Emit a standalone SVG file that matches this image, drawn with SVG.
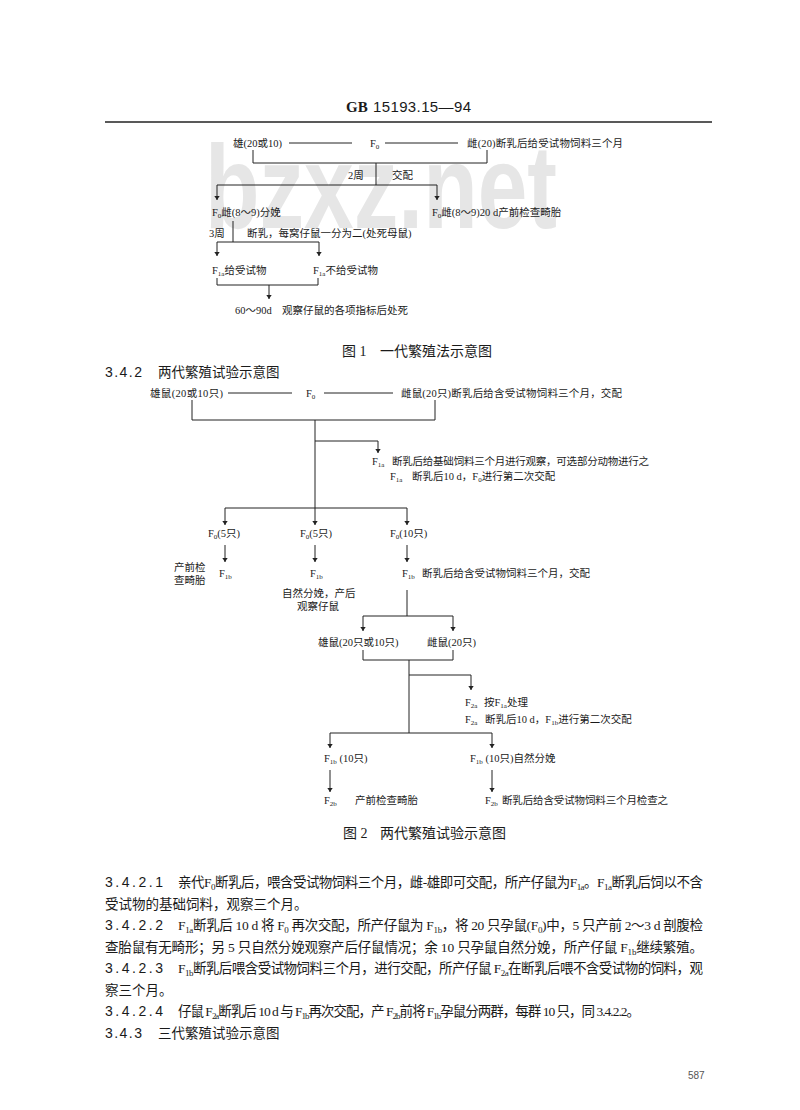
<svg xmlns="http://www.w3.org/2000/svg" width="800" height="1110" viewBox="0 0 800 1110">
<defs>
<style>
text{font-family:"Liberation Serif","Noto Sans CJK SC",serif;font-size:10.5px;fill:#1a1a1a}
.p{font-size:13.5px}
.n{font-family:"Liberation Sans","DejaVu Sans",sans-serif}
.num{font-family:"Liberation Sans","DejaVu Sans",sans-serif;font-size:14px}
.s{font-size:7px}
.ps{font-size:9px}
.cap{font-size:14px}
.ln{stroke:#222;stroke-width:1;fill:none}
.ar{marker-end:url(#ah)}
.wm{font-family:"Liberation Sans",sans-serif;font-weight:bold;font-size:118px;fill:#e6e6e6}
</style>
<marker id="ah" viewBox="0 0 6 10" refX="6" refY="5" markerWidth="4" markerHeight="8" markerUnits="userSpaceOnUse" orient="auto"><path d="M0,1 L6,5 L0,9 z" fill="#222"/></marker>
</defs>
<rect width="800" height="1110" fill="#fff"/>
<text class="wm" x="205" y="228" textLength="352" lengthAdjust="spacingAndGlyphs">bzxz.net</text>

<g id="header">
<text x="346" y="112" style="font-size:15px;font-weight:bold">GB</text>
<text class="n" x="373" y="112" style="font-size:15px" textLength="98">15193.15—94</text>
<line x1="105" y1="122" x2="712" y2="122" stroke="#222" stroke-width="1.6"/>
</g>

<!-- Figure 1 -->
<g id="fig1-connectors">
<path class="ln" d="M289,143 H352 M385,143 H458"/>
<path class="ln" d="M253,150 V163 H487 V150 M376,163 V185 M217,185 H437"/>
<path class="ln ar" d="M217,185 V200"/>
<path class="ln ar" d="M437,185 V200"/>
<path class="ln" d="M233,221 V242 M217,242 H319"/>
<path class="ln ar" d="M217,242 V256"/>
<path class="ln ar" d="M319,242 V256"/>
<path class="ln" d="M217,278 V285 H318 V278"/>
<path class="ln ar" d="M269,285 V299"/>
</g>
<g id="f1-male"><text x="233" y="147">雄(20或10)</text></g>
<g id="f1-F0"><text x="370" y="147">F<tspan class="s" dy="2">0</tspan></text></g>
<g id="f1-female"><text x="467" y="147" textLength="156">雌(20)断乳后给受试物饲料三个月</text></g>
<g id="f1-mate"><text x="348" y="179">2周</text><text x="392" y="179">交配</text></g>
<g id="f1-birth"><text x="212" y="216">F<tspan class="s" dy="2">0</tspan><tspan dy="-2">雌(8～9)分娩</tspan></text></g>
<g id="f1-check"><text x="432" y="216">F<tspan class="s" dy="2">0</tspan><tspan dy="-2">雌(8～9)20 d产前检查畸胎</tspan></text></g>
<g id="f1-wean"><text x="209" y="237">3周</text><text x="247" y="237">断乳，每窝仔鼠一分为二(处死母鼠)</text></g>
<g id="f1-F1a-give"><text x="212" y="274">F<tspan class="s" dy="2">1a</tspan><tspan dy="-2">给受试物</tspan></text></g>
<g id="f1-F1a-nogive"><text x="313" y="274">F<tspan class="s" dy="2">1a</tspan><tspan dy="-2">不给受试物</tspan></text></g>
<g id="f1-end"><text x="235" y="314">60～90d</text><text x="282" y="314">观察仔鼠的各项指标后处死</text></g>

<g id="caption1"><text class="cap" x="342" y="356">图 1</text><text class="cap" x="380" y="356">一代繁殖法示意图</text></g>
<g id="sec342"><text class="num" x="105" y="377" textLength="37">3.4.2</text><text class="p" x="158" y="377">两代繁殖试验示意图</text></g>

<!-- Figure 2 -->
<g id="fig2-connectors">
<path class="ln" d="M228,393 H292 M324,393 H393"/>
<path class="ln" d="M192,400 V420 H435 V400 M315,420 V508 M315,441 H378"/>
<path class="ln ar" d="M378,441 V453"/>
<path class="ln" d="M225,508 H407"/>
<path class="ln ar" d="M225,508 V525"/>
<path class="ln ar" d="M315,508 V525"/>
<path class="ln ar" d="M407,508 V525"/>
<path class="ln ar" d="M225,545 V562"/>
<path class="ln ar" d="M315,545 V562"/>
<path class="ln ar" d="M407,545 V562"/>
<path class="ln" d="M407,590 V616 M363,616 H453"/>
<path class="ln ar" d="M363,616 V631"/>
<path class="ln ar" d="M453,616 V631"/>
<path class="ln" d="M363,650 V660 H453 V650 M409,660 V733 M409,675 H471"/>
<path class="ln ar" d="M471,675 V690"/>
<path class="ln" d="M330,733 H492"/>
<path class="ln ar" d="M330,733 V748"/>
<path class="ln ar" d="M492,733 V748"/>
<path class="ln ar" d="M330,770 V792"/>
<path class="ln ar" d="M492,770 V792"/>
</g>
<g id="f2-male"><text x="150" y="397" textLength="73">雄鼠(20或10只)</text></g>
<g id="f2-F0"><text x="306" y="397">F<tspan class="s" dy="2">0</tspan></text></g>
<g id="f2-female"><text x="401" y="397" textLength="221">雌鼠(20只)断乳后给含受试物饲料三个月，交配</text></g>
<g id="f2-F1a">
<text x="372" y="465">F<tspan class="s" dy="2">1a</tspan></text>
<text x="392" y="465" textLength="257">断乳后给基础饲料三个月进行观察，可选部分动物进行之</text>
<text x="390" y="480">F<tspan class="s" dy="2">1a</tspan></text>
<text x="412" y="480">断乳后10 d，F<tspan class="s" dy="2">0</tspan><tspan dy="-2">进行第二次交配</tspan></text>
</g>
<g id="f2-F0-5a"><text x="208" y="537">F<tspan class="s" dy="2">0</tspan><tspan dy="-2">(5只)</tspan></text></g>
<g id="f2-F0-5b"><text x="300" y="537">F<tspan class="s" dy="2">0</tspan><tspan dy="-2">(5只)</tspan></text></g>
<g id="f2-F0-10"><text x="390" y="537">F<tspan class="s" dy="2">0</tspan><tspan dy="-2">(10只)</tspan></text></g>
<g id="f2-F1b-a"><text x="174" y="571">产前检</text><text x="174" y="584">查畸胎</text><text x="219" y="577">F<tspan class="s" dy="2">1b</tspan></text></g>
<g id="f2-F1b-b"><text x="310" y="577">F<tspan class="s" dy="2">1b</tspan></text><text x="282" y="597">自然分娩，产后</text><text x="297" y="610">观察仔鼠</text></g>
<g id="f2-F1b-c"><text x="402" y="577">F<tspan class="s" dy="2">1b</tspan></text><text x="422" y="577">断乳后给含受试物饲料三个月，交配</text></g>
<g id="f2-male2"><text x="318" y="646">雄鼠(20只或10只)</text></g>
<g id="f2-female2"><text x="427" y="646">雌鼠(20只)</text></g>
<g id="f2-F2a">
<text x="465" y="706">F<tspan class="s" dy="2">2a</tspan></text>
<text x="484" y="706">按F<tspan class="s" dy="2">1a</tspan><tspan dy="-2">处理</tspan></text>
<text x="465" y="723">F<tspan class="s" dy="2">2a</tspan></text>
<text x="485" y="723">断乳后10 d，F<tspan class="s" dy="2">1b</tspan><tspan dy="-2">进行第二次交配</tspan></text>
</g>
<g id="f2-F1b-10a"><text x="324" y="762">F<tspan class="s" dy="2">1b</tspan><tspan dy="-2"> (10只)</tspan></text></g>
<g id="f2-F1b-10b"><text x="470" y="762">F<tspan class="s" dy="2">1b</tspan><tspan dy="-2"> (10只)自然分娩</tspan></text></g>
<g id="f2-F2b-a"><text x="324" y="804">F<tspan class="s" dy="2">2b</tspan></text><text x="355" y="804">产前检查畸胎</text></g>
<g id="f2-F2b-b"><text x="485" y="804">F<tspan class="s" dy="2">2b</tspan></text><text x="502" y="804" textLength="166">断乳后给含受试物饲料三个月检查之</text></g>

<g id="caption2"><text class="cap" x="343" y="838">图 2</text><text class="cap" x="380" y="838">两代繁殖试验示意图</text></g>

<!-- Body text -->
<g id="body">
<text class="num" x="105" y="887" textLength="58">3.4.2.1</text>
<text class="p" x="178" y="887" textLength="525" lengthAdjust="spacing">亲代F<tspan class="ps" dy="3">0</tspan><tspan dy="-3">断乳后，喂含受试物饲料三个月，雌-雄即可交配，所产仔鼠为F</tspan><tspan class="ps" dy="3">1a</tspan><tspan dy="-3">。F</tspan><tspan class="ps" dy="3">1a</tspan><tspan dy="-3">断乳后饲以不含</tspan></text>
<text class="p" x="105" y="908.5">受试物的基础饲料，观察三个月。</text>
<text class="num" x="105" y="930" textLength="58">3.4.2.2</text>
<text class="p" x="178" y="930" textLength="525" lengthAdjust="spacing">F<tspan class="ps" dy="3">1a</tspan><tspan dy="-3">断乳后 10 d 将 F</tspan><tspan class="ps" dy="3">0</tspan><tspan dy="-3"> 再次交配，所产仔鼠为 F</tspan><tspan class="ps" dy="3">1b</tspan><tspan dy="-3">，将 20 只孕鼠(F</tspan><tspan class="ps" dy="3">0</tspan><tspan dy="-3">)中，5 只产前 2～3 d 剖腹检</tspan></text>
<text class="p" x="105" y="951.5" textLength="598" lengthAdjust="spacing">查胎鼠有无畸形；另 5 只自然分娩观察产后仔鼠情况；余 10 只孕鼠自然分娩，所产仔鼠 F<tspan class="ps" dy="3">1b</tspan><tspan dy="-3">继续繁殖。</tspan></text>
<text class="num" x="105" y="973" textLength="58">3.4.2.3</text>
<text class="p" x="178" y="973" textLength="525" lengthAdjust="spacing">F<tspan class="ps" dy="3">1b</tspan><tspan dy="-3">断乳后喂含受试物饲料三个月，进行交配，所产仔鼠 F</tspan><tspan class="ps" dy="3">2a</tspan><tspan dy="-3">在断乳后喂不含受试物的饲料，观</tspan></text>
<text class="p" x="105" y="994.5">察三个月。</text>
<text class="num" x="105" y="1016" textLength="58">3.4.2.4</text>
<text class="p" x="178" y="1016" textLength="462" lengthAdjust="spacing">仔鼠 F<tspan class="ps" dy="3">2a</tspan><tspan dy="-3">断乳后 10 d 与 F</tspan><tspan class="ps" dy="3">1b</tspan><tspan dy="-3">再次交配，产 F</tspan><tspan class="ps" dy="3">2b</tspan><tspan dy="-3">前将 F</tspan><tspan class="ps" dy="3">1b</tspan><tspan dy="-3">孕鼠分两群，每群 10 只，同 3.4.2.2。</tspan></text>
<text class="num" x="105" y="1037.5" textLength="37">3.4.3</text>
<text class="p" x="158" y="1037.5">三代繁殖试验示意图</text>
</g>
<g id="pagenum"><text class="n" x="688" y="1079" style="font-size:10px;fill:#555">587</text></g>
</svg>
